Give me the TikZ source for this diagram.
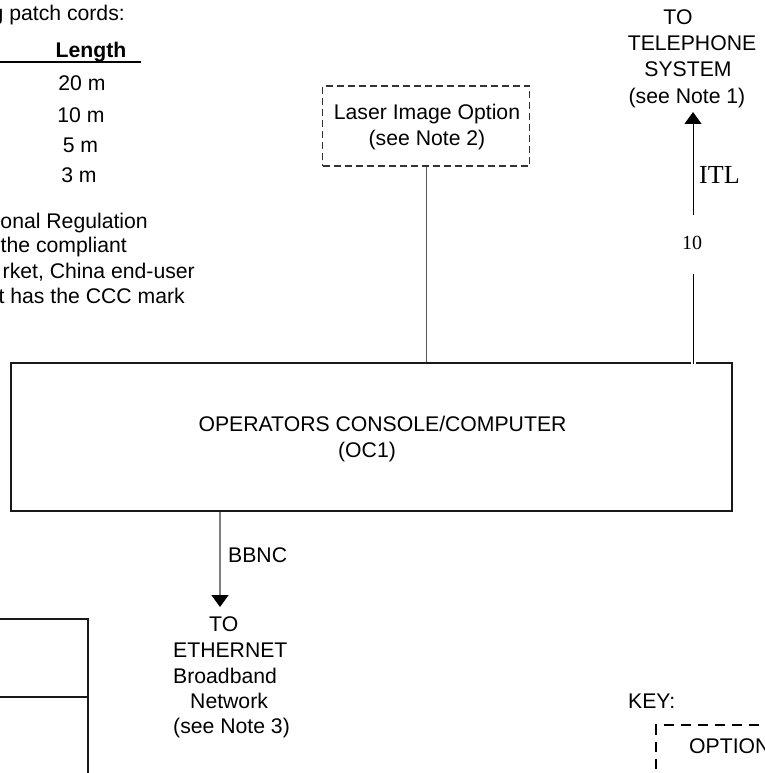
\documentclass[tikz,border=0pt]{standalone}
\usepackage{fontspec}
\setmainfont{Liberation Sans}
\newfontfamily\tms{Liberation Serif}
\usetikzlibrary{arrows.meta}
\begin{document}
\begin{tikzpicture}[x=1pt,y=-1pt,
  txt/.style={inner sep=0pt, font=\fontsize{21.2}{26}\selectfont},
  box/.style={draw=black!90, line width=1.3pt, inner sep=0pt},
  optbox/.style={draw=black!80, line width=1.2pt, dash pattern=on 7pt off 4pt, inner sep=0pt},
  keybox/.style={draw=black, line width=1.2pt, dash pattern=on 10pt off 7pt, inner sep=0pt},
  conn/.style={draw=black!65, line width=1pt},
  arr/.style={-{Triangle[width=17pt,length=12pt,color=black]}}]
\useasboundingbox (0,0) rectangle (764,773);
\clip (0,0) rectangle (764,773);

% top-left table and note (cropped)
\node[txt, anchor=base east] (pc) at (125,21) {g patch cords:};
\node[txt, anchor=base] (len) at (91,58) {\textbf{Length}};
\coordinate (ruleL) at (-2,62);
\coordinate (ruleR) at (141,62);
\draw[line width=1.3pt] (ruleL) -- (ruleR);
\node[txt, anchor=base] (l20) at (82,90.7) {20 m};
\node[txt, anchor=base] (l10) at (81,122) {10 m};
\node[txt, anchor=base] (l5) at (80.5,152) {5 m};
\node[txt, anchor=base] (l3) at (79,182) {3 m};
\node[txt, anchor=base east] (n1) at (148,228) {onal Regulation};
\node[txt, anchor=base west] (n2) at (0.5,252) {the compliant};
\node[txt, anchor=base east] (n3) at (195,278) {rket, China end-user};
\node[txt, anchor=base east] (n4) at (185,303) {t has the CCC mark};

% main box
\node[box, minimum width=721pt, minimum height=148pt] (oc) at (371.5,437) {};
\node[txt, anchor=base] (octext) at (382.5,431) {OPERATORS CONSOLE/COMPUTER};
\node[txt, anchor=base] (ocid) at (367,457) {(OC1)};

% laser option
\node[optbox, minimum width=207pt, minimum height=80pt] (laser) at (426,126) {};
\node[txt, anchor=base] (las1) at (427,120) {Laser Image Option};
\node[txt, anchor=base] (las2) at (427,145) {(see Note 2)};
\draw[conn] (laser.south) -- (laser.south |- oc.north);

% telephone
\node[txt, anchor=base] (t1) at (678,25) {TO};
\node[txt, anchor=base] (t2) at (692,51) {TELEPHONE};
\node[txt, anchor=base] (t3) at (688,77) {SYSTEM};
\node[txt, anchor=base] (t4) at (687,103) {(see Note 1)};
\coordinate (itlbot) at (693,364);
\coordinate (itlgapA) at (693,274);
\coordinate (itlgapB) at (693,215);
\coordinate (telpt) at (693,112);
\draw[white, line width=5pt] (693,360) -- (693,366);
\draw[black, line width=1pt] (itlbot) -- (itlgapA);
\draw[black, line width=1pt, arr] (itlgapB) -- (telpt);
\node[anchor=base, inner sep=0pt, font=\tms\fontsize{20}{20}\selectfont] (ten) at (692,249) {10};
\node[anchor=base west, inner sep=0pt, font=\tms\fontsize{26}{26}\selectfont] (itl) at (699,183) {ITL};

% ethernet
\coordinate (bbtop) at (220,511.5);
\coordinate (bbtip) at (220,607);
\draw[draw=black!50, line width=1.4pt, arr] (bbtop) -- (bbtip);
\node[txt, anchor=base west] (bbnc) at (228,562) {BBNC};
\node[txt, anchor=base west] (e1) at (209,631) {TO};
\node[txt, anchor=base west] (e2) at (173,657) {ETHERNET};
\node[txt, anchor=base west] (e3) at (173,683) {Broadband};
\node[txt, anchor=base west] (e4) at (190,708) {Network};
\node[txt, anchor=base west] (e5) at (173,733) {(see Note 3)};

% bottom-left boxes (cropped)
\node[box, minimum width=100pt, minimum height=78pt] (lb1) at (38,658) {};
\node[box, minimum width=100pt, minimum height=76.5pt] (lb2) at (38,735.25) {};

% key
\node[txt, anchor=base west] (key) at (628,708) {KEY:};
\node[keybox, minimum width=214pt, minimum height=48.5pt] (keyopt) at (763,749.25) {};
\node[txt, anchor=base west] (opt) at (689,753) {OPTION};
\end{tikzpicture}
\end{document}
